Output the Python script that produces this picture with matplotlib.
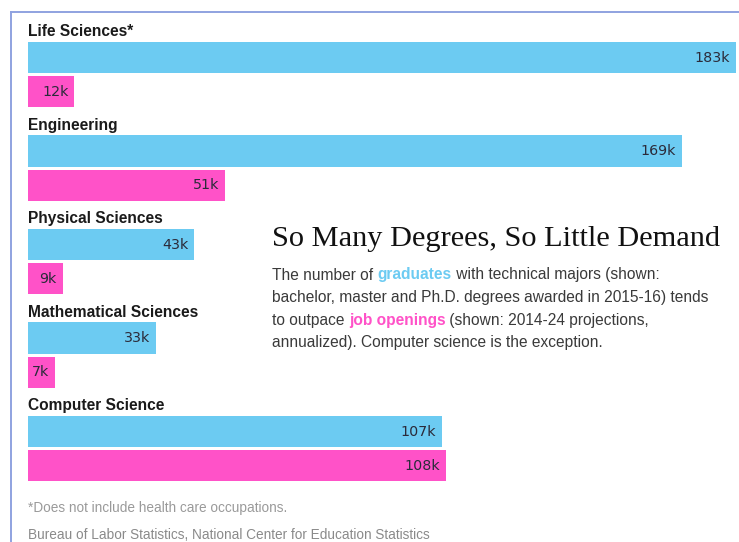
import matplotlib.pyplot as plt
from matplotlib.lines import Line2D

# data (thousands)
categories = ['Life Sciences*', 'Engineering', 'Physical Sciences',
              'Mathematical Sciences', 'Computer Science']
graduates = [183, 169, 43, 33, 107]
openings = [12, 51, 9, 7, 108]

blue = '#6ccbf2'
pink = '#ff52c8'
dark = '#2b2b3a'

W, H = 739, 542
fig = plt.figure(figsize=(W / 100, H / 100), dpi=100)
ax = fig.add_axes([0, 0, 1, 1])

# pixel layout: bars start at x=28, 3.87 px per thousand; groups 93.5 px apart
px_per_k = 3.87
ax.set_xlim(-28 / px_per_k, (W - 28) / px_per_k)
ax.set_ylim((H - 57.5) / 93.5, -57.5 / 93.5)
ax.axis('off')

bar_h = 0.332
off = 0.364
pad = 6 / px_per_k
for i, (cat, g, o) in enumerate(zip(categories, graduates, openings)):
    ax.barh(i, g, height=bar_h, color=blue, left=0)
    ax.barh(i + off, o, height=bar_h, color=pink, left=0)
    ax.text(0, i - bar_h / 2 - 0.03, cat, ha='left', va='bottom',
            fontsize=11.2, fontweight='bold', family='Liberation Sans', color='#1a1a1a')
    ax.text(g - pad, i, f'{g}k', ha='right', va='center',
            fontsize=10.3, family='DejaVu Sans', color=dark)
    ax.text(o - pad, i + off, f'{o}k', ha='right', va='center',
            fontsize=10.3, family='DejaVu Sans', color=dark)

# border lines (top and left)
fig.add_artist(Line2D([11 / W, 11 / W], [0, 1 - 12 / H], transform=fig.transFigure,
                      color='#8fa2e0', lw=1.4))
fig.add_artist(Line2D([11 / W, 1], [1 - 12 / H, 1 - 12 / H], transform=fig.transFigure,
                      color='#8fa2e0', lw=1.4))

# title and description
fig.text(272 / W, 1 - 246 / H, 'So Many Degrees, So Little Demand', ha='left',
         va='baseline', fontsize=21.9, family='Liberation Serif', color='#111111')

renderer = fig.canvas.get_renderer()


def rich_line(x_px, y_px, parts, size=11.2):
    x = x_px / W
    for s, c, w in parts:
        t = fig.text(x, 1 - y_px / H, s, ha='left', va='center', fontsize=size,
                     family='Liberation Sans', color=c, fontweight=w)
        bb = t.get_window_extent(renderer)
        x = bb.x1 / W


gray = '#3a3a3a'
lines = [
    [('The number of ', gray, 'normal'), ('graduates', blue, 'bold'),
     (' with technical majors (shown:', gray, 'normal')],
    [('bachelor, master and Ph.D. degrees awarded in 2015-16) tends', gray, 'normal')],
    [('to outpace ', gray, 'normal'), ('job openings', pink, 'bold'),
     (' (shown: 2014-24 projections,', gray, 'normal')],
    [('annualized). Computer science is the exception.', gray, 'normal')],
]
for k, parts in enumerate(lines):
    rich_line(272, 275 + 22.5 * k, parts)

# footnotes
fig.text(28 / W, 1 - 508 / H, '*Does not include health care occupations.',
         ha='left', va='center', fontsize=9.8, family='Liberation Sans', color='#9a9a9a')
fig.text(28 / W, 1 - 535 / H,
         'Bureau of Labor Statistics, National Center for Education Statistics',
         ha='left', va='center', fontsize=9.8, family='Liberation Sans', color='#8a8a8a')

fig.savefig('out.png', dpi=100)
